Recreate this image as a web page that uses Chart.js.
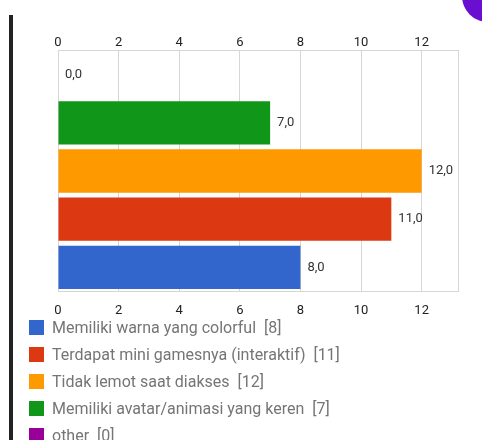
<!DOCTYPE html>
<html>
<head>
<meta charset="utf-8">
<script src="https://cdn.jsdelivr.net/npm/chart.js@4"></script>
<style>
body{margin:0;width:482px;height:440px;overflow:hidden;background:#fff;font-family:Roboto,sans-serif;position:relative}
#bar{position:absolute;left:9px;top:15px;width:4px;height:430px;background:#222}
#dot{position:absolute;left:462px;top:-30px;width:52px;height:52px;border-radius:50%;background:#6a0fd0}
#wrap{position:absolute;left:0;top:0;width:482px;height:333px}
#legend{position:absolute;left:29px;top:314px}
.item{height:27px;display:flex;align-items:center;font-size:16px;color:#757575;white-space:pre}
.box{width:15px;height:15px;margin-right:8px}
</style>
</head>
<body>
<div id="bar"></div>
<div id="dot"></div>
<div id="wrap"><canvas id="myChart"></canvas></div>
<div id="legend"></div>
<script>
// bars top to bottom
const categories = ["other", "Memiliki avatar/animasi yang keren", "Tidak lemot saat diakses", "Terdapat mini gamesnya (interaktif)", "Memiliki warna yang colorful"]
const counts = [0, 7, 12, 11, 8]
const colors = ["#990099", "#109618", "#ff9900", "#dc3912", "#3366cc"]
const tickValues = [0, 2, 4, 6, 8, 10, 12]
const axisMax = 13.2

// legend is listed bottom bar first
const legend = document.getElementById('legend')
for (let i = categories.length - 1; i >= 0; i--) {
    var row = document.createElement("DIV")
    row.className = "item"
    var b = document.createElement("DIV")
    b.className = "box"
    b.style.background = colors[i]
    row.appendChild(b)
    row.appendChild(document.createTextNode(categories[i] + "  [" + counts[i] + "]"))
    legend.appendChild(row)
}

const valueLabels = {
    id: 'valueLabels',
    afterDatasetsDraw(chart) {
        const ctx = chart.ctx
        const meta = chart.getDatasetMeta(0)
        ctx.save()
        ctx.font = '13px Roboto'
        ctx.fillStyle = '#333'
        ctx.textBaseline = 'middle'
        meta.data.forEach(function (bar, i) {
            ctx.fillText(counts[i].toFixed(1).replace('.', ','), bar.x + 7, bar.y)
        })
        ctx.restore()
    }
}

function xAxis(pos, pad) {
    return {
        position: pos, axis: 'x', min: 0, max: axisMax,
        afterBuildTicks: function (axis) {
            axis.ticks = tickValues.map(v => ({ value: v })).concat([{ value: axisMax }])
        },
        ticks: {
            font: { family: 'Roboto', size: 13 },
            color: '#222',
            padding: pad,
            callback: function (v) { return tickValues.includes(v) ? v : '' }
        },
        grid: { color: '#d6d6d6', drawTicks: false },
        border: { color: '#d6d6d6' }
    }
}

var ctx = document.getElementById('myChart').getContext('2d')
var myChart = new Chart(ctx, {
    type: 'bar',
    data: {
        labels: categories,
        datasets: [{
            data: counts,
            backgroundColor: colors,
            barPercentage: 0.9,
            categoryPercentage: 1
        }]
    },
    options: {
        indexAxis: 'y',
        responsive: true,
        maintainAspectRatio: false,
        animation: false,
        layout: { padding: { left: 58, right: 24, top: 35, bottom: 2 } },
        plugins: { legend: { display: false }, tooltip: { enabled: false } },
        scales: {
            x: xAxis('bottom', 12),
            x2: xAxis('top', 0),
            y: {
                display: true,
                ticks: { display: false },
                grid: { display: false, drawTicks: false },
                border: { display: false }
            }
        }
    },
    plugins: [valueLabels]
})
</script>
</body>
</html>
